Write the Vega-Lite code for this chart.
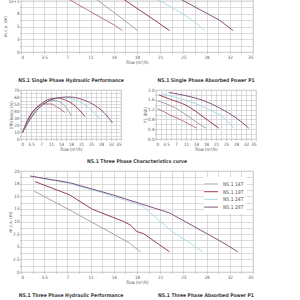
{
  "$schema": "https://vega.github.io/schema/vega-lite/v6.json",
  "background": "white",
  "padding": {"left": 2, "top": -4, "right": 0, "bottom": 0},
  "bounds": "full",
  "spacing": 7,
  "resolve": {"scale": {"color": "independent"}, "legend": {"color": "independent"}},
  "config": {
    "font": "Liberation Sans Narrow, DejaVu Sans Condensed, Liberation Sans, sans-serif",
    "view": {"stroke": "#c4c4c4", "strokeWidth": 0.6},
    "axis": {
      "labelFontSize": 4.5,
      "labelColor": "#555555",
      "titleFontSize": 4.5,
      "titleColor": "#555555",
      "titleFontWeight": "normal",
      "gridColor": "#c4c4c4",
      "gridWidth": 0.6,
      "domain": false,
      "tickSize": 1.5,
      "tickColor": "#aaaaaa",
      "tickWidth": 0.6,
      "labelPadding": 0.5,
      "titlePadding": 0.5
    },
    "title": {"fontSize": 5, "fontWeight": "bold", "color": "#3f3f3f", "offset": 4, "anchor": "middle", "frame": "group"},
    "line": {"strokeWidth": 0.9, "clip": true}
  },
  "datasets": {
    "singleHead": [
      {"model": "NS.1 10M", "flow": 7.0, "head": 10.5},
      {"model": "NS.1 10M", "flow": 10.5, "head": 7.9},
      {"model": "NS.1 10M", "flow": 14.2, "head": 5.2},
      {"model": "NS.1 10M", "flow": 15.3, "head": 4.2},
      {"model": "NS.1 14M", "flow": 11.2, "head": 10.5},
      {"model": "NS.1 14M", "flow": 14.4, "head": 7.4},
      {"model": "NS.1 14M", "flow": 17.6, "head": 4.2},
      {"model": "NS.1 19M", "flow": 15.3, "head": 10.5},
      {"model": "NS.1 19M", "flow": 17.8, "head": 8.3},
      {"model": "NS.1 19M", "flow": 20.2, "head": 6.2},
      {"model": "NS.1 19M", "flow": 22.4, "head": 4.2},
      {"model": "NS.1 24M", "flow": 20.3, "head": 10.5},
      {"model": "NS.1 24M", "flow": 24.4, "head": 7.5},
      {"model": "NS.1 24M", "flow": 26.2, "head": 5.9},
      {"model": "NS.1 24M", "flow": 27.7, "head": 4.2},
      {"model": "NS.1 28M", "flow": 23.9, "head": 10.5},
      {"model": "NS.1 28M", "flow": 27.0, "head": 8.3},
      {"model": "NS.1 28M", "flow": 30.0, "head": 6.2},
      {"model": "NS.1 28M", "flow": 32.0, "head": 4.2}
    ],
    "singleEff": [
      {"model": "NS.1 10M", "flow": 0.5, "eff": 9},
      {"model": "NS.1 10M", "flow": 2, "eff": 25},
      {"model": "NS.1 10M", "flow": 3.5, "eff": 36},
      {"model": "NS.1 10M", "flow": 5.5, "eff": 45},
      {"model": "NS.1 10M", "flow": 8, "eff": 50},
      {"model": "NS.1 10M", "flow": 10.5, "eff": 50},
      {"model": "NS.1 10M", "flow": 12.5, "eff": 46},
      {"model": "NS.1 10M", "flow": 15.3, "eff": 38},
      {"model": "NS.1 14M", "flow": 0.5, "eff": 9},
      {"model": "NS.1 14M", "flow": 2, "eff": 24},
      {"model": "NS.1 14M", "flow": 3.5, "eff": 35},
      {"model": "NS.1 14M", "flow": 6, "eff": 46},
      {"model": "NS.1 14M", "flow": 9, "eff": 53},
      {"model": "NS.1 14M", "flow": 11.5, "eff": 55},
      {"model": "NS.1 14M", "flow": 14, "eff": 52},
      {"model": "NS.1 14M", "flow": 16, "eff": 44},
      {"model": "NS.1 14M", "flow": 17.6, "eff": 33},
      {"model": "NS.1 19M", "flow": 0.5, "eff": 9},
      {"model": "NS.1 19M", "flow": 2, "eff": 23},
      {"model": "NS.1 19M", "flow": 4, "eff": 38},
      {"model": "NS.1 19M", "flow": 7, "eff": 50},
      {"model": "NS.1 19M", "flow": 10, "eff": 57},
      {"model": "NS.1 19M", "flow": 13, "eff": 58},
      {"model": "NS.1 19M", "flow": 16, "eff": 55},
      {"model": "NS.1 19M", "flow": 19, "eff": 47},
      {"model": "NS.1 19M", "flow": 22.4, "eff": 32},
      {"model": "NS.1 24M", "flow": 0.5, "eff": 9},
      {"model": "NS.1 24M", "flow": 2.5, "eff": 25},
      {"model": "NS.1 24M", "flow": 5, "eff": 40},
      {"model": "NS.1 24M", "flow": 8, "eff": 51},
      {"model": "NS.1 24M", "flow": 11.5, "eff": 57},
      {"model": "NS.1 24M", "flow": 15, "eff": 59},
      {"model": "NS.1 24M", "flow": 19, "eff": 56},
      {"model": "NS.1 24M", "flow": 23, "eff": 47},
      {"model": "NS.1 24M", "flow": 27.7, "eff": 28},
      {"model": "NS.1 28M", "flow": 0.5, "eff": 9},
      {"model": "NS.1 28M", "flow": 3, "eff": 27},
      {"model": "NS.1 28M", "flow": 6, "eff": 43},
      {"model": "NS.1 28M", "flow": 9.5, "eff": 54},
      {"model": "NS.1 28M", "flow": 13, "eff": 59},
      {"model": "NS.1 28M", "flow": 17, "eff": 60},
      {"model": "NS.1 28M", "flow": 21, "eff": 57},
      {"model": "NS.1 28M", "flow": 25, "eff": 50},
      {"model": "NS.1 28M", "flow": 29, "eff": 38},
      {"model": "NS.1 28M", "flow": 32, "eff": 23}
    ],
    "singlePower": [
      {"model": "NS.1 10M", "flow": 0.5, "p1": 1.24},
      {"model": "NS.1 10M", "flow": 3, "p1": 1.1},
      {"model": "NS.1 10M", "flow": 5.2, "p1": 0.96},
      {"model": "NS.1 10M", "flow": 8, "p1": 0.82},
      {"model": "NS.1 10M", "flow": 11, "p1": 0.64},
      {"model": "NS.1 10M", "flow": 14.3, "p1": 0.44},
      {"model": "NS.1 14M", "flow": 0.5, "p1": 1.56},
      {"model": "NS.1 14M", "flow": 3, "p1": 1.46},
      {"model": "NS.1 14M", "flow": 6.3, "p1": 1.3},
      {"model": "NS.1 14M", "flow": 10.8, "p1": 0.96},
      {"model": "NS.1 14M", "flow": 14, "p1": 0.7},
      {"model": "NS.1 14M", "flow": 17.5, "p1": 0.44},
      {"model": "NS.1 19M", "flow": 1, "p1": 1.8},
      {"model": "NS.1 19M", "flow": 5, "p1": 1.62},
      {"model": "NS.1 19M", "flow": 10.8, "p1": 1.36},
      {"model": "NS.1 19M", "flow": 14, "p1": 1.12},
      {"model": "NS.1 19M", "flow": 16.8, "p1": 0.88},
      {"model": "NS.1 19M", "flow": 22, "p1": 0.44},
      {"model": "NS.1 24M", "flow": 2, "p1": 1.84},
      {"model": "NS.1 24M", "flow": 8, "p1": 1.66},
      {"model": "NS.1 24M", "flow": 12, "p1": 1.52},
      {"model": "NS.1 24M", "flow": 16.8, "p1": 1.3},
      {"model": "NS.1 24M", "flow": 20, "p1": 1.12},
      {"model": "NS.1 24M", "flow": 22.7, "p1": 0.96},
      {"model": "NS.1 24M", "flow": 27.3, "p1": 0.44},
      {"model": "NS.1 28M", "flow": 4.5, "p1": 1.9},
      {"model": "NS.1 28M", "flow": 10.8, "p1": 1.76},
      {"model": "NS.1 28M", "flow": 16.8, "p1": 1.56},
      {"model": "NS.1 28M", "flow": 22.7, "p1": 1.24},
      {"model": "NS.1 28M", "flow": 28.3, "p1": 0.84},
      {"model": "NS.1 28M", "flow": 32.5, "p1": 0.44}
    ],
    "threeHead": [
      {"model": "NS.1 14T", "flow": 2.0, "head": 16.0},
      {"model": "NS.1 14T", "flow": 7.3, "head": 12.3},
      {"model": "NS.1 14T", "flow": 12.3, "head": 8.7},
      {"model": "NS.1 14T", "flow": 16.3, "head": 5.8},
      {"model": "NS.1 14T", "flow": 18.0, "head": 4.0},
      {"model": "NS.1 19T", "flow": 2.1, "head": 17.9},
      {"model": "NS.1 19T", "flow": 7.3, "head": 15.3},
      {"model": "NS.1 19T", "flow": 10.8, "head": 12.4},
      {"model": "NS.1 19T", "flow": 15.5, "head": 10.0},
      {"model": "NS.1 19T", "flow": 16.5, "head": 9.3},
      {"model": "NS.1 19T", "flow": 17.5, "head": 8.0},
      {"model": "NS.1 19T", "flow": 18.5, "head": 7.6},
      {"model": "NS.1 19T", "flow": 22.4, "head": 4.0},
      {"model": "NS.1 24T", "flow": 1.4, "head": 19.0},
      {"model": "NS.1 24T", "flow": 7.0, "head": 17.6},
      {"model": "NS.1 24T", "flow": 12.3, "head": 15.7},
      {"model": "NS.1 24T", "flow": 18.3, "head": 13.1},
      {"model": "NS.1 24T", "flow": 22.8, "head": 8.0},
      {"model": "NS.1 24T", "flow": 25.9, "head": 5.4},
      {"model": "NS.1 24T", "flow": 27.4, "head": 4.0},
      {"model": "NS.1 28T", "flow": 1.4, "head": 19.0},
      {"model": "NS.1 28T", "flow": 7.3, "head": 17.7},
      {"model": "NS.1 28T", "flow": 13.8, "head": 15.3},
      {"model": "NS.1 28T", "flow": 22.4, "head": 11.7},
      {"model": "NS.1 28T", "flow": 27.9, "head": 7.7},
      {"model": "NS.1 28T", "flow": 30.5, "head": 5.8},
      {"model": "NS.1 28T", "flow": 32.7, "head": 4.0}
    ],
    "threeEff": [
      {"model": "NS.1 14T", "flow": 0.5, "eff": 9},
      {"model": "NS.1 14T", "flow": 9, "eff": 53},
      {"model": "NS.1 14T", "flow": 18, "eff": 32},
      {"model": "NS.1 19T", "flow": 0.5, "eff": 9},
      {"model": "NS.1 19T", "flow": 12, "eff": 58},
      {"model": "NS.1 19T", "flow": 22.4, "eff": 32},
      {"model": "NS.1 24T", "flow": 0.5, "eff": 9},
      {"model": "NS.1 24T", "flow": 15, "eff": 59},
      {"model": "NS.1 24T", "flow": 27.4, "eff": 28},
      {"model": "NS.1 28T", "flow": 0.5, "eff": 9},
      {"model": "NS.1 28T", "flow": 17, "eff": 60},
      {"model": "NS.1 28T", "flow": 32.7, "eff": 23}
    ],
    "threePower": [
      {"model": "NS.1 14T", "flow": 0.5, "p1": 1.5},
      {"model": "NS.1 14T", "flow": 18, "p1": 0.44},
      {"model": "NS.1 19T", "flow": 1, "p1": 1.8},
      {"model": "NS.1 19T", "flow": 22.4, "p1": 0.44},
      {"model": "NS.1 24T", "flow": 2, "p1": 1.84},
      {"model": "NS.1 24T", "flow": 27.4, "p1": 0.44},
      {"model": "NS.1 28T", "flow": 4.5, "p1": 1.9},
      {"model": "NS.1 28T", "flow": 32.7, "p1": 0.44}
    ]
  },
  "vconcat": [
    {
      "width": 232,
      "height": 52,
      "data": {"name": "singleHead"},
      "mark": {"type": "line"},
      "encoding": {
        "x": {"field": "flow", "type": "quantitative", "scale": {"domain": [0, 35], "nice": false},
              "axis": {"title": "flow (m³/h)", "format": "~g", "values": [0, 1.75, 3.5, 5.25, 7, 8.75, 10.5, 12.25, 14, 15.75, 17.5, 19.25, 21, 22.75, 24.5, 26.25, 28, 29.75, 31.5, 33.25, 35], "labelExpr": "datum.value % 3.5 === 0 ? datum.label : ''"}},
        "y": {"field": "head", "type": "quantitative", "scale": {"domain": [0, 10.2], "nice": false},
              "axis": {"title": "m.c.a. (m)", "format": "~g", "values": [0, 1.25, 2.5, 3.75, 5, 6.25, 7.5, 8.75, 10], "labelExpr": "datum.value % 2.5 === 0 ? datum.label : ''"}},
        "color": {"field": "model", "type": "nominal", "legend": null,
                  "scale": {"domain": ["NS.1 10M", "NS.1 14M", "NS.1 19M", "NS.1 24M", "NS.1 28M"], "range": ["#b06a86", "#a395ad", "#8a2c44", "#a3d8e6", "#7b426f"]}}
      }
    },
    {
      "bounds": "flush",
      "spacing": 35,
      "hconcat": [
        {
          "title": {"text": ["", "NS.1 Single Phase Hydraulic Performance"], "lineHeight": 6},
          "width": 100,
          "height": 49,
          "data": {"name": "singleEff"},
          "mark": {"type": "line", "interpolate": "monotone"},
          "encoding": {
            "x": {"field": "flow", "type": "quantitative", "scale": {"domain": [0, 35], "nice": false},
                  "axis": {"title": "flow (m³/h)", "format": "~g", "values": [0, 1.75, 3.5, 5.25, 7, 8.75, 10.5, 12.25, 14, 15.75, 17.5, 19.25, 21, 22.75, 24.5, 26.25, 28, 29.75, 31.5, 33.25, 35], "labelExpr": "datum.value % 3.5 === 0 ? datum.label : ''"}},
            "y": {"field": "eff", "type": "quantitative", "scale": {"domain": [0, 70], "nice": false},
                  "axis": {"title": "Efficiency (%)", "values": [0, 5, 10, 15, 20, 25, 30, 35, 40, 45, 50, 55, 60, 65, 70], "labelExpr": "datum.value % 10 === 0 ? datum.label : ''"}},
            "color": {"field": "model", "type": "nominal", "legend": null,
                      "scale": {"domain": ["NS.1 10M", "NS.1 14M", "NS.1 19M", "NS.1 24M", "NS.1 28M"], "range": ["#b06a86", "#a395ad", "#8a2c44", "#a3d8e6", "#7b426f"]}}
          }
        },
        {
          "title": {"text": ["", "NS.1 Single Phase Absorbed Power P1"], "lineHeight": 6},
          "width": 100,
          "height": 49,
          "data": {"name": "singlePower"},
          "mark": {"type": "line", "interpolate": "monotone"},
          "encoding": {
            "x": {"field": "flow", "type": "quantitative", "scale": {"domain": [0, 35], "nice": false},
                  "axis": {"title": "flow (m³/h)", "format": "~g", "values": [0, 1.75, 3.5, 5.25, 7, 8.75, 10.5, 12.25, 14, 15.75, 17.5, 19.25, 21, 22.75, 24.5, 26.25, 28, 29.75, 31.5, 33.25, 35], "labelExpr": "datum.value % 3.5 === 0 ? datum.label : ''"}},
            "y": {"field": "p1", "type": "quantitative", "scale": {"domain": [0, 2], "nice": false},
                  "axis": {"title": "P1 (kW)", "format": ".1f", "values": [0, 0.2, 0.4, 0.6, 0.8, 1, 1.2, 1.4, 1.6, 1.8, 2], "labelExpr": "round(datum.value * 10) % 4 === 0 ? datum.label : ''"}},
            "color": {"field": "model", "type": "nominal", "legend": null,
                      "scale": {"domain": ["NS.1 10M", "NS.1 14M", "NS.1 19M", "NS.1 24M", "NS.1 28M"], "range": ["#b06a86", "#a395ad", "#8a2c44", "#a3d8e6", "#7b426f"]}}
          }
        }
      ]
    },
    {
      "title": "NS.1 Three Phase Characteristics curve",
      "width": 232,
      "height": 101,
      "data": {"name": "threeHead"},
      "mark": {"type": "line"},
      "encoding": {
        "x": {"field": "flow", "type": "quantitative", "scale": {"domain": [0, 35], "nice": false},
              "axis": {"title": "flow (m³/h)", "format": "~g", "values": [0, 1.75, 3.5, 5.25, 7, 8.75, 10.5, 12.25, 14, 15.75, 17.5, 19.25, 21, 22.75, 24.5, 26.25, 28, 29.75, 31.5, 33.25, 35], "labelExpr": "datum.value % 3.5 === 0 ? datum.label : ''"}},
        "y": {"field": "head", "type": "quantitative", "scale": {"domain": [0, 20], "nice": false},
              "axis": {"title": "m.c.a. (m)", "format": "~g", "values": [0, 1.25, 2.5, 3.75, 5, 6.25, 7.5, 8.75, 10, 11.25, 12.5, 13.75, 15, 16.25, 17.5, 18.75, 20], "labelExpr": "datum.value % 2.5 === 0 ? datum.label : ''"}},
        "color": {"field": "model", "type": "nominal",
                  "scale": {"domain": ["NS.1 14T", "NS.1 19T", "NS.1 24T", "NS.1 28T"], "range": ["#a395ad", "#8a2c44", "#a3d8e6", "#7b426f"]},
                  "legend": {"title": null, "orient": "top-right", "offset": 6, "fillColor": "white", "padding": 3, "symbolType": "M-2,0H2", "symbolSize": 49, "symbolStrokeWidth": 1.2, "labelFontSize": 5, "labelColor": "#555555", "rowPadding": 0.7, "labelOffset": 8}}
      }
    },
    {
      "bounds": "flush",
      "spacing": 35,
      "hconcat": [
        {
          "title": {"text": ["", "NS.1 Three Phase Hydraulic Performance"], "lineHeight": 1},
          "width": 100,
          "height": 49,
          "data": {"name": "threeEff"},
          "mark": {"type": "line", "interpolate": "monotone"},
          "encoding": {
            "x": {"field": "flow", "type": "quantitative", "scale": {"domain": [0, 35], "nice": false}, "axis": {"title": "flow (m³/h)", "format": "~g", "values": [0, 3.5, 7, 10.5, 14, 17.5, 21, 24.5, 28, 31.5, 35]}},
            "y": {"field": "eff", "type": "quantitative", "scale": {"domain": [0, 70], "nice": false}, "axis": {"title": "Efficiency (%)", "values": [0, 10, 20, 30, 40, 50, 60, 70]}},
            "color": {"field": "model", "type": "nominal", "legend": null,
                      "scale": {"domain": ["NS.1 14T", "NS.1 19T", "NS.1 24T", "NS.1 28T"], "range": ["#a395ad", "#8a2c44", "#a3d8e6", "#7b426f"]}}
          }
        },
        {
          "title": {"text": ["", "NS.1 Three Phase Absorbed Power P1"], "lineHeight": 1},
          "width": 100,
          "height": 49,
          "data": {"name": "threePower"},
          "mark": {"type": "line", "interpolate": "monotone"},
          "encoding": {
            "x": {"field": "flow", "type": "quantitative", "scale": {"domain": [0, 35], "nice": false}, "axis": {"title": "flow (m³/h)", "format": "~g", "values": [0, 3.5, 7, 10.5, 14, 17.5, 21, 24.5, 28, 31.5, 35]}},
            "y": {"field": "p1", "type": "quantitative", "scale": {"domain": [0, 2], "nice": false}, "axis": {"title": "P1 (kW)", "format": ".1f", "values": [0, 0.4, 0.8, 1.2, 1.6, 2]}},
            "color": {"field": "model", "type": "nominal", "legend": null,
                      "scale": {"domain": ["NS.1 14T", "NS.1 19T", "NS.1 24T", "NS.1 28T"], "range": ["#a395ad", "#8a2c44", "#a3d8e6", "#7b426f"]}}
          }
        }
      ]
    }
  ]
}
